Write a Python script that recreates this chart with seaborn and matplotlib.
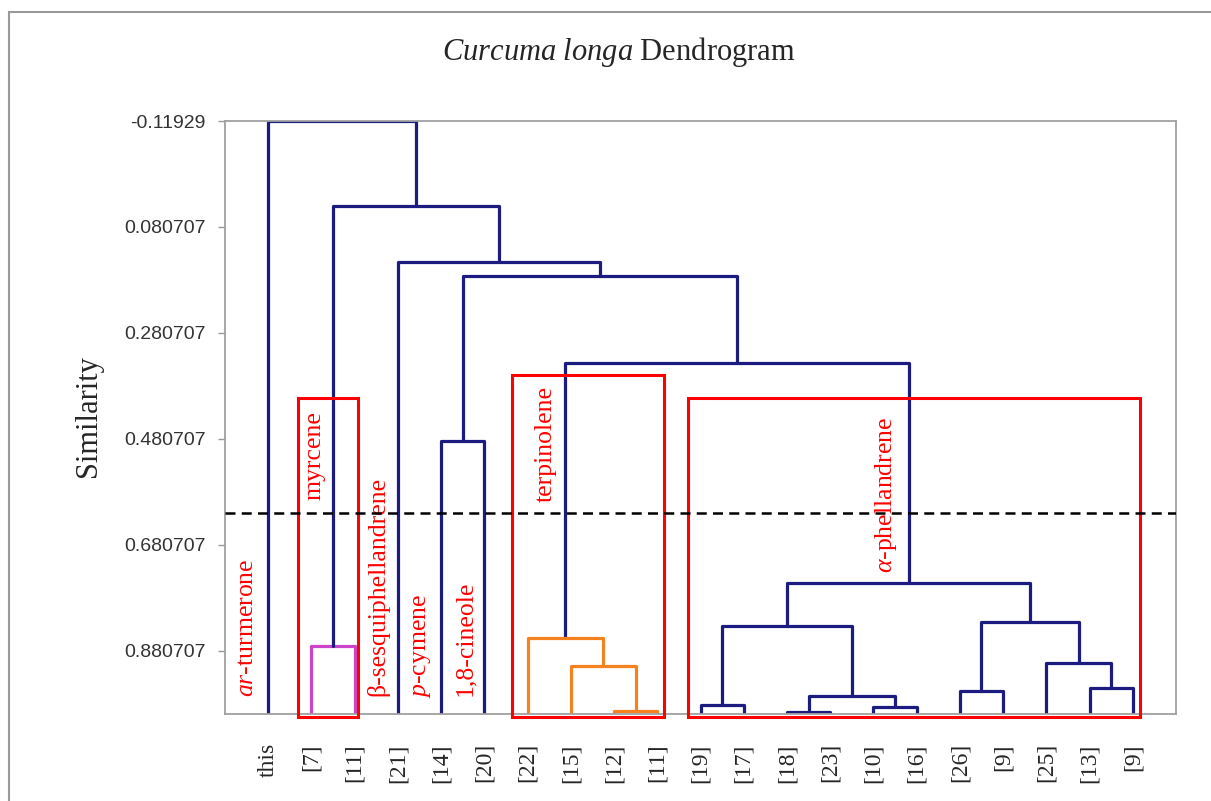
# Curcuma longa dendrogram - rebuilt from the reference chart
import numpy as np
import pandas as pd
import seaborn as sns
import matplotlib.pyplot as plt
from matplotlib.patches import Rectangle

# leaves along the x axis (left to right)
leaf_labels = ['this', '[7]', '[11]', '[21]', '[14]', '[20]', '[22]', '[15]', '[12]', '[11]',
               '[19]', '[17]', '[18]', '[23]', '[10]', '[16]', '[26]', '[9]', '[25]', '[13]', '[9]']

# merges, scipy-style: children are leaf index or 21 + merge index
merge_left = [1, 4, 8, 7, 6, 10, 12, 14, 27, 26, 16, 19, 18, 31, 30, 25, 22, 3, 21, 0]
merge_right = [2, 5, 9, 23, 24, 11, 13, 15, 28, 29, 17, 20, 32, 33, 34, 35, 36, 37, 38, 39]
merge_height = [0.872, 0.485, 0.995, 0.910, 0.857, 0.983, 0.996, 0.986, 0.966, 0.833,
                0.956, 0.950, 0.904, 0.827, 0.752, 0.338, 0.173, 0.146, 0.042, -0.119293]
merge_group = ['pink', 'main', 'orange', 'orange', 'orange', 'main', 'main', 'main', 'main', 'main',
               'main', 'main', 'main', 'main', 'main', 'main', 'main', 'main', 'main', 'main']

y_min = -0.119293
y_ticks = [y_min + 0.2 * k for k in range(6)]
y_tick_labels = ['-0.11929', '0.080707', '0.280707', '0.480707', '0.680707', '0.880707']
cut_level = 0.620

# build link polylines
n = len(leaf_labels)
node_x = {i: i + 1 for i in range(n)}
node_y = {i: 1.0 for i in range(n)}
rows = []
for i, (a, b, h, g) in enumerate(zip(merge_left, merge_right, merge_height, merge_group)):
    pts = [(node_x[a], node_y[a]), (node_x[a], h), (node_x[b], h), (node_x[b], node_y[b])]
    for k, (px, py) in enumerate(pts):
        rows.append({'link': i, 'order': k, 'x': px, 'y': py, 'group': g})
    node_x[n + i] = (node_x[a] + node_x[b]) / 2
    node_y[n + i] = h
links = pd.DataFrame(rows)

sns.set_style('white')
plt.rcParams['font.family'] = ['Liberation Serif', 'DejaVu Serif']
plt.rcParams['mathtext.fontset'] = 'custom'
plt.rcParams['mathtext.rm'] = 'Liberation Serif'
plt.rcParams['mathtext.it'] = 'Liberation Serif:italic'

fig = plt.figure(figsize=(12.11, 8.01), dpi=100)
ax = fig.add_axes([0.1858, 0.1086, 0.7853, 0.7403])

sns.lineplot(data=links, x='x', y='y', units='link', estimator=None, sort=False,
             hue='group', palette={'main': '#1c1c80', 'pink': '#cc44cc', 'orange': '#f5821f'},
             linewidth=2.3, legend=False, ax=ax)

ax.axhline(cut_level, color='black', linestyle=(0, (4, 2.5)), linewidth=1.8, zorder=5)

# red cluster boxes (x0, x1, top)
for x0, x1, top in [(1.69, 3.08, 0.404), (6.64, 10.16, 0.3605), (10.71, 21.17, 0.404)]:
    ax.add_patch(Rectangle((x0, top), x1 - x0, 1.0058 - top, fill=False,
                           edgecolor='#ff0000', linewidth=2.2, clip_on=False, zorder=4))

red = '#ff0000'
fs = 18.5
ax.text(0.52, 0.968, '$\\mathit{ar}$-turmerone', rotation=90, ha='center', va='bottom', color=red, fontsize=fs)
ax.text(2.06, 0.428, 'myrcene', rotation=90, ha='center', va='top', color=red, fontsize=fs)
ax.text(3.54, 0.966, 'β-sesquiphellandrene', rotation=90, ha='center', va='bottom', color=red, fontsize=fs)
ax.text(4.56, 0.970, '$\\mathit{p}$-cymene', rotation=90, ha='center', va='bottom', color=red, fontsize=fs)
ax.text(5.55, 0.966, '1,8-cineole', rotation=90, ha='center', va='bottom', color=red, fontsize=fs)
ax.text(7.41, 0.381, 'terpinolene', rotation=90, ha='center', va='top', color=red, fontsize=fs)
ax.text(15.29, 0.4395, '$\\mathit{α}$-phellandrene', rotation=90, ha='center', va='top', color=red, fontsize=fs)

ax.set_xlim(0, n + 1)
ax.set_ylim(1.0, y_min)
ax.set_xticks(range(1, n + 1))
ax.set_xticklabels(leaf_labels, rotation=90, fontsize=17)
ax.tick_params(axis='x', length=0, pad=21)
ax.set_yticks(y_ticks)
ax.set_yticklabels(y_tick_labels, fontsize=14, color='#333333', family='Liberation Sans')
ax.tick_params(axis='y', direction='out', length=5, width=1, color='#999999', pad=9, left=True)
ax.set_xlabel('')
ax.set_ylabel('')
for s in ax.spines.values():
    s.set_color('#a0a0a0')
    s.set_linewidth(1.3)

fig.text(0.0727, 0.4807, 'Similarity', rotation=90, ha='center', va='center', fontsize=22)
fig.text(0.511, 0.935, '$\\mathit{Curcuma\\ longa}$ Dendrogram', ha='center', va='center', fontsize=22)

# outer frame (left/top visible in the reference)
fig.patches.append(Rectangle((0.0074, -0.1), 1.2, 0.985 + 0.1, transform=fig.transFigure,
                             fill=False, edgecolor='#999999', linewidth=1.5))

plt.savefig('out.png', dpi=100)
